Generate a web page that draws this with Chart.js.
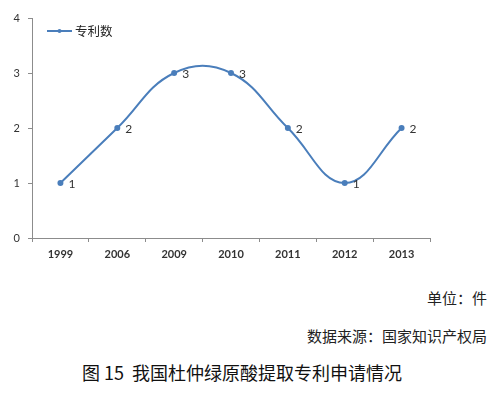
<!DOCTYPE html>
<html>
<head>
<meta charset="utf-8">
<script src="https://cdn.jsdelivr.net/npm/chart.js@4.4.0/dist/chart.umd.min.js"></script>
<style>
  body { margin: 0; background: #fff; }
  #wrap { position: relative; width: 500px; height: 396px; }
  #chart-box { position: absolute; left: 0; top: 0; width: 500px; height: 270px; }
  .note { position: absolute; right: 13px; font: 15px "Noto Sans CJK SC", sans-serif; color: #222; }
  #caption { position: absolute; left: 82px; top: 359px; font: 18px "Noto Sans CJK SC", sans-serif; color: #111; white-space: nowrap; }
</style>
</head>
<body>
<div id="wrap">
  <div id="chart-box"><canvas id="patentChart"></canvas></div>
  <div class="note" style="top:287px">单位：件</div>
  <div class="note" style="top:325px">数据来源：国家知识产权局</div>
  <div id="caption">图 15&nbsp; 我国杜仲绿原酸提取专利申请情况</div>
</div>
<script>
const years = ['1999', '2006', '2009', '2010', '2011', '2012', '2013'];
const patentCounts = [1, 2, 3, 3, 2, 1, 2];
const seriesName = '专利数';

const lineBlue = '#4a7ebb';
const axisGray = '#8c8c8c';

// labels next to each point + legend inside the plot
const labelsPlugin = {
  id: 'labelsPlugin',
  afterDatasetsDraw(chart) {
    const ctx = chart.ctx;
    const meta = chart.getDatasetMeta(0);
    ctx.save();
    ctx.font = '12px Lato, sans-serif';
    ctx.fillStyle = '#333';
    ctx.textBaseline = 'middle';
    meta.data.forEach((pt, i) => {
      ctx.fillText(String(patentCounts[i]), pt.x + 8, pt.y + 1);
    });
    // legend
    const lx = chart.chartArea.left + 15;
    const ly = chart.chartArea.top + 13;
    ctx.strokeStyle = lineBlue;
    ctx.lineWidth = 2;
    ctx.beginPath();
    ctx.moveTo(lx, ly);
    ctx.lineTo(lx + 25, ly);
    ctx.stroke();
    ctx.fillStyle = lineBlue;
    ctx.beginPath();
    ctx.arc(lx + 12.5, ly, 2, 0, Math.PI * 2);
    ctx.fill();
    ctx.fillStyle = '#222';
    ctx.font = '12.5px "Noto Sans CJK SC", sans-serif';
    ctx.fillText(seriesName, lx + 28, ly);
    ctx.restore();
  }
};

const patentChart = document.getElementById('patentChart');

new Chart(patentChart, {
  type: 'line',
  data: {
    labels: years,
    datasets: [
      {
        label: seriesName,
        data: patentCounts,
        borderColor: lineBlue,
        backgroundColor: lineBlue,
        borderWidth: 2,
        pointRadius: 2,
        pointHoverRadius: 2,
        tension: 0.42,
        fill: false,
      },
    ],
  },
  options: {
    responsive: true,
    maintainAspectRatio: false,
    animation: false,
    layout: { padding: { left: 0, right: 70, top: 18, bottom: 0 } },
    plugins: {
      legend: { display: false },
      tooltip: { enabled: false },
    },
    scales: {
      x: {
        offset: true,
        grid: { offset: true, drawOnChartArea: false, tickLength: 4, color: axisGray },
        border: { color: axisGray, width: 1 },
        ticks: { color: '#333', font: { family: 'Lato', size: 11, weight: 'bold' }, padding: 6, maxRotation: 0 },
        afterFit: (scale) => { scale.height = 32; },
      },
      y: {
        min: 0,
        max: 4,
        ticks: { stepSize: 1, color: '#333', font: { family: 'Lato', size: 11 }, padding: 8 },
        grid: { drawOnChartArea: false, tickLength: 4, color: axisGray },
        border: { color: axisGray, width: 1 },
        afterFit: (scale) => { scale.width = 32; },
      },
    },
  },
  plugins: [labelsPlugin],
});
</script>
</body>
</html>
